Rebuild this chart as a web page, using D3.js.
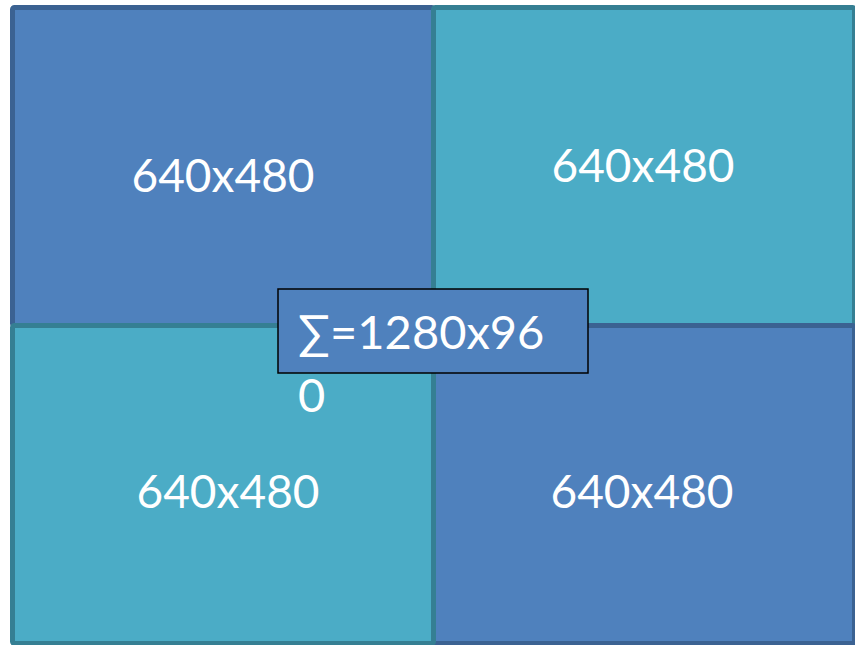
<!DOCTYPE html>
<html>
<head>
<meta charset="utf-8">
<script src="https://cdn.jsdelivr.net/npm/d3@7"></script>
<style>
	html, body { margin: 0; padding: 0; background: #ffffff; }
	svg { display: block; }
</style>
</head>
<body>
<svg id="chart" width="855" height="645"></svg>
<script>
// data
const cellCols = [0, 1, 1, 0]  // drawing order: TL, TR, BR, BL
const cellRows = [0, 0, 1, 1]
const cellLabels = ["640x480", "640x480", "640x480", "640x480"]
const cellKinds = ["blue", "teal", "blue", "teal"]
const sumLines = ["\u2211=1280x96", "0"]

// style
const fills = { blue: "#4f81bd", teal: "#4bacc6" }
const strokes = { blue: "#3b6292", teal: "#357f93" }
const border = 5
const fontStack = "Lato, 'Open Sans', sans-serif"

const svg = d3.select("#chart")

const x = d3.scaleLinear().domain([0, 2]).range([10, 852])
const y = d3.scaleLinear().domain([0, 2]).range([5, 641])

const cells = cellCols.map((c, i) => ({
	col: c,
	row: cellRows[i],
	label: cellLabels[i],
	kind: cellKinds[i]
}))

// small hand nudges so the labels sit where the original put them
const nudge = { "0,0": [0, 8], "1,0": [-1, -2], "1,1": [-2, 6], "0,1": [5, 6] }

const g = svg.selectAll(".cell").data(cells).join("g").attr("class", "cell")

g.append("rect")
	.attr("x", d => x(d.col) + border / 2)
	.attr("y", d => y(d.row) + border / 2)
	.attr("width", d => x(d.col + 1) - x(d.col))
	.attr("height", d => y(d.row + 1) - y(d.row))
	.attr("rx", 2)
	.attr("fill", d => fills[d.kind])
	.attr("stroke", d => strokes[d.kind])
	.attr("stroke-width", border)

g.append("text")
	.attr("x", d => (x(d.col) + x(d.col + 1)) / 2 + border / 2 + nudge[d.col + "," + d.row][0])
	.attr("y", d => (y(d.row) + y(d.row + 1)) / 2 + border / 2 + nudge[d.col + "," + d.row][1])
	.attr("text-anchor", "middle")
	.attr("dominant-baseline", "central")
	.attr("fill", "#ffffff")
	.attr("font-family", fontStack)
	.attr("font-size", 46)
	.text(d => d.label)

// the sum box in the middle
const bx = x(1) - 153, by = y(1) - 34
svg.append("rect")
	.attr("x", bx)
	.attr("y", by)
	.attr("width", 310)
	.attr("height", 84)
	.attr("fill", fills.blue)
	.attr("stroke", "#000000")
	.attr("stroke-width", 1.5)

svg.append("g").selectAll("text").data(sumLines).join("text")
	.attr("x", bx + 20)
	.attr("y", (d, i) => by + 60 + i * 63)
	.attr("fill", "#ffffff")
	.attr("font-family", fontStack)
	.attr("font-size", 47)
	.text(d => d)
</script>
</body>
</html>
